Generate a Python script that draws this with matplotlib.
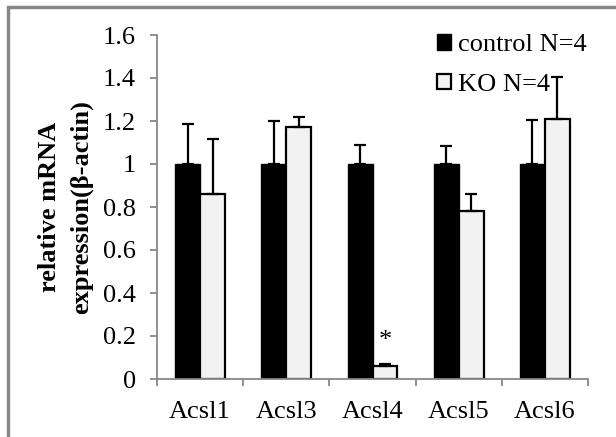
import matplotlib
matplotlib.use("Agg")
import matplotlib.pyplot as plt
import numpy as np
from matplotlib.patches import Rectangle

categories = ["Acsl1", "Acsl3", "Acsl4", "Acsl5", "Acsl6"]
control = [1.0, 1.0, 1.0, 1.0, 1.0]
control_err = [0.186, 0.20, 0.088, 0.082, 0.206]
ko = [0.859, 1.171, 0.062, 0.781, 1.211]
ko_err = [0.257, 0.048, 0.008, 0.081, 0.194]
yticks = [0, 0.2, 0.4, 0.6, 0.8, 1, 1.2, 1.4, 1.6]
yticklabels = ["0", "0.2", "0.4", "0.6", "0.8", "1", "1.2", "1.4", "1.6"]

plt.rcParams['font.family'] = ['Liberation Serif', 'DejaVu Serif']
FS = 19

fig = plt.figure(figsize=(6.16, 4.37), dpi=100)
ax = fig.add_axes([157/616, 1-379/437, (588-157)/616, (379-35)/437])

x = np.arange(len(categories))
w = 0.29
ax.bar(x - w/2, control, w, color="black", edgecolor="black", linewidth=1,
       yerr=[np.zeros(5), control_err], capsize=4.2, error_kw=dict(elinewidth=1.6, capthick=1.6, ecolor="black"),
       label="control N=4", zorder=2)
ax.bar(x + w/2, ko, w, color="#f2f2f2", edgecolor="black", linewidth=1.6,
       yerr=[np.zeros(5), ko_err], capsize=4.2, error_kw=dict(elinewidth=1.6, capthick=1.6, ecolor="black"),
       label="KO N=4", zorder=2)

ax.text(x[2] + w/2, 0.125, "*", ha="center", va="bottom", fontsize=FS)

ax.set_xlim(-0.5, 4.5)
ax.set_ylim(0, 1.6)
ax.set_yticks(yticks)
ax.set_yticklabels(yticklabels, fontsize=FS)
ax.set_xticks(x)
ax.set_xticklabels(categories, fontsize=FS)
ax.set_xticks(np.arange(-0.5, 5, 1), minor=True)
ax.tick_params(axis="x", which="major", length=0, pad=16)
ax.tick_params(axis="x", which="minor", length=5, color="#888888", width=1.3)
ax.tick_params(axis="y", length=5, color="#888888", width=1.3, pad=10)

for s in ["top", "right"]:
    ax.spines[s].set_visible(False)
for s in ["left", "bottom"]:
    ax.spines[s].set_color("#888888")
    ax.spines[s].set_linewidth(1.3)

ax.set_ylabel("relative mRNA\nexpression(\u03b2-actin)", fontsize=FS, fontweight="bold", labelpad=7, linespacing=1.5)

leg = ax.legend(loc="upper right", bbox_to_anchor=(1.021, 1.034), frameon=False, fontsize=FS,
                handlelength=0.55, handleheight=0.55, handletextpad=0.25, labelspacing=0.66,
                borderaxespad=0.0)

fig.patches.append(Rectangle((8/616, -0.1), 1.2, 1 - 7/437 + 0.1, transform=fig.transFigure,
                             fill=False, edgecolor="#888888", linewidth=2.5))

fig.savefig("out.png", dpi=100)
